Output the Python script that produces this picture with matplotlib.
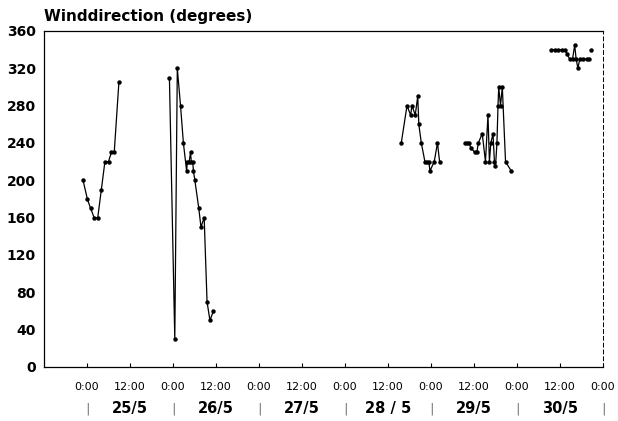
import matplotlib
matplotlib.use("Agg")
import matplotlib.pyplot as plt
import matplotlib.transforms as mtransforms
import numpy as np

# hours since 25/5 0:00, wind direction in degrees
seg1_hours = [-1.1, 0.1, 1.0, 2.0, 3.0, 4.0, 5.0, 6.0, 6.8, 7.6, 8.9]
seg1_deg = [200, 180, 170, 160, 160, 190, 220, 220, 230, 230, 305]

seg2_hours = [23.0, 24.5, 25.2, 26.1, 26.9, 27.8, 28.0, 28.5, 28.9, 29.1, 29.5, 29.7,
              30.1, 31.2, 31.8, 32.7, 33.5, 34.3, 35.3]
seg2_deg = [310, 30, 320, 280, 240, 210, 220, 220, 230, 220, 220, 210,
            200, 170, 150, 160, 70, 50, 60]

seg3_hours = [87.7, 89.3, 90.3, 90.7, 91.6, 92.3, 92.6, 93.3, 94.3, 94.8, 95.4, 95.7,
              96.9, 97.8, 98.4]
seg3_deg = [240, 280, 270, 280, 270, 290, 260, 240, 220, 220, 220, 210,
            220, 240, 220]

seg4_hours = [105.5, 106.0, 106.6, 107.1, 108.2, 108.8, 109.2, 110.3, 111.2, 111.9,
              112.3, 112.7, 113.3, 113.7, 114.0, 114.4, 114.7, 114.9, 115.4, 115.9,
              116.8, 118.4]
seg4_deg = [240, 240, 240, 235, 230, 230, 240, 250, 220, 270,
            220, 240, 250, 220, 215, 240, 280, 300, 280, 300,
            220, 210]

seg5_hours = [129.5, 130.5, 131.5, 132.5, 133.4, 134.0, 134.7, 135.5, 136.1, 136.5,
              137.0, 137.5, 138.5, 139.5, 140.2]
seg5_deg = [340, 340, 340, 340, 340, 335, 330, 330, 345, 330,
            320, 330, 330, 330, 330]

single_hours = [140.6]
single_deg = [340]

y_ticks = [0, 40, 80, 120, 160, 200, 240, 280, 320, 360]
x_tick_hours = list(range(0, 145, 12))
x_tick_labels = ["0:00" if h % 24 == 0 else "12:00" for h in x_tick_hours]
date_labels = ["25/5", "26/5", "27/5", "28 / 5", "29/5", "30/5"]

fig = plt.figure(figsize=(6.18, 4.21), dpi=100)
ax = fig.add_axes([44 / 618, 1 - 367 / 421, 559 / 618, 336 / 421])

segments = [(seg1_hours, seg1_deg), (seg2_hours, seg2_deg), (seg3_hours, seg3_deg),
            (seg4_hours, seg4_deg), (seg5_hours, seg5_deg), (single_hours, single_deg)]
for hrs, deg in segments:
    ax.plot(hrs, deg, color="black", lw=0.9, marker="o", ms=3.2,
            markerfacecolor="black", markeredgewidth=0)

ax.set_xlim(-12, 144)
ax.set_ylim(0, 360)
ax.set_yticks(y_ticks)
ax.set_yticklabels([str(v) for v in y_ticks], fontsize=10, fontweight="bold")
ax.set_xticks(x_tick_hours)
ax.set_xticklabels(x_tick_labels, fontsize=8)
ax.tick_params(axis="x", direction="in", length=3, pad=11, width=0.8)
ax.tick_params(axis="y", direction="out", length=0, pad=6)

for s in ["top", "left", "bottom"]:
    ax.spines[s].set_linewidth(0.9)
ax.spines["right"].set_linestyle((0, (4, 3)))
ax.spines["right"].set_linewidth(0.7)

trans = mtransforms.blended_transform_factory(ax.transData, ax.transAxes)
for i, lab in enumerate(date_labels):
    ax.text(24 * i + 12, -0.125, lab, transform=trans, ha="center", va="center",
            fontsize=10.5, fontweight="bold")
for i in range(7):
    ax.text(24 * i, -0.125, "|", transform=trans, ha="center", va="center",
            fontsize=9, fontweight="light")

fig.text(44 / 618, 1 - 17 / 421, "Winddirection (degrees)", ha="left", va="center",
         fontsize=11, fontweight="bold")

fig.savefig("out.png", dpi=100)
